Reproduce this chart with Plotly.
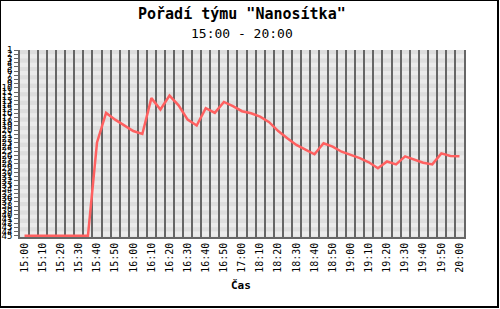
import plotly.graph_objects as go

# sample times (text scale: 15:00-17:00 and 18:05-20:00, every 5 minutes)
times = ([f"{15 + m // 60}:{m % 60:02d}" for m in range(0, 121, 5)] +
         [f"{18 + m // 60}:{m % 60:02d}" for m in range(5, 121, 5)])
rank = [45, 45, 45, 45, 45, 45, 45, 45, 22.9, 15.9, 17.5, 18.9, 20.2, 20.9,
        12.4, 15.1, 11.8, 14.1, 17.5, 18.9, 14.8, 15.9, 13.3, 14.3, 15.5,
        16.0, 16.8, 18.1, 20.2, 21.9, 23.5, 24.6, 25.7, 23.1, 23.9, 25.1,
        25.9, 26.6, 27.6, 29.0, 27.4, 28.1, 26.2, 26.9, 27.7, 28.1, 25.5,
        26.1, 26.2]

idx = list(range(len(times)))
tick_idx = idx[::2]
tick_labels = times[::2]
rank_ticks = list(range(1, 46))

W, H = 500, 309
L, R, T, B = 20, 36, 50, 72
pw, ph = W - L - R, H - T - B

def px_x(px):
    return (px - L) / pw

def px_y(py):
    return (H - B - py) / ph

fig = go.Figure()
fig.add_trace(go.Scatter(x=idx, y=rank, mode="lines", text=times,
                         line=dict(color="#ff6060", width=2.5), showlegend=False,
                         hoverinfo="skip"))
fig.add_trace(go.Scatter(x=[], y=[], xaxis="x2", showlegend=False))

shapes = []
for r in rank_ticks[:-1]:
    shapes.append(dict(type="rect", xref="paper", yref="y", x0=0, x1=1,
                       y0=r, y1=r + 1, line=dict(width=0), layer="below",
                       fillcolor="#dedede" if r % 2 else "#ebebeb"))
shapes.append(dict(type="rect", xref="paper", yref="paper",
                   x0=px_x(0), x1=px_x(498), y0=px_y(307), y1=px_y(0),
                   line=dict(color="black", width=2)))

mono = "DejaVu Sans Mono"
fig.update_layout(
    width=W, height=H,
    margin=dict(l=L, r=R, t=T, b=B),
    paper_bgcolor="white", plot_bgcolor="#e4e4e4",
    shapes=shapes,
    xaxis=dict(range=[-0.5, len(times) - 0.5], tickmode="array", tickvals=tick_idx,
               ticktext=tick_labels, tickangle=-90, showgrid=False, zeroline=False,
               showline=True, linecolor="#666666", linewidth=1.5, ticks="",
               automargin=False,
               tickfont=dict(family=mono, size=10, color="black")),
    xaxis2=dict(overlaying="x", range=[0, len(times)], dtick=1, tick0=0, showgrid=True,
                gridcolor="#666666", gridwidth=1.5, showticklabels=False,
                zeroline=False, anchor="y", side="bottom", automargin=False),
    yaxis=dict(range=[45.3, 1], tickmode="array", tickvals=rank_ticks,
               ticktext=[str(r) for r in rank_ticks], showgrid=False, zeroline=False,
               showline=True, mirror=True, linecolor="#666666", linewidth=1.5,
               ticks="outside", ticklen=4, tickcolor="#666666", automargin=False,
               tickfont=dict(family=mono, size=9, color="black")),
    annotations=[
        dict(text="<b>Pořadí týmu \"Nanosítka\"</b>", xref="paper", yref="paper",
             x=0.5, y=px_y(14), showarrow=False, yanchor="middle",
             font=dict(family=mono, size=15, color="black")),
        dict(text="15:00 - 20:00", xref="paper", yref="paper",
             x=0.5, y=px_y(33), showarrow=False, yanchor="middle",
             font=dict(family=mono, size=13, color="black")),
        dict(text="<b>Čas</b>", xref="paper", yref="paper",
             x=px_x(241), y=px_y(285), showarrow=False, yanchor="middle",
             font=dict(family=mono, size=11, color="black")),
    ],
)
fig.write_html("out.html")
